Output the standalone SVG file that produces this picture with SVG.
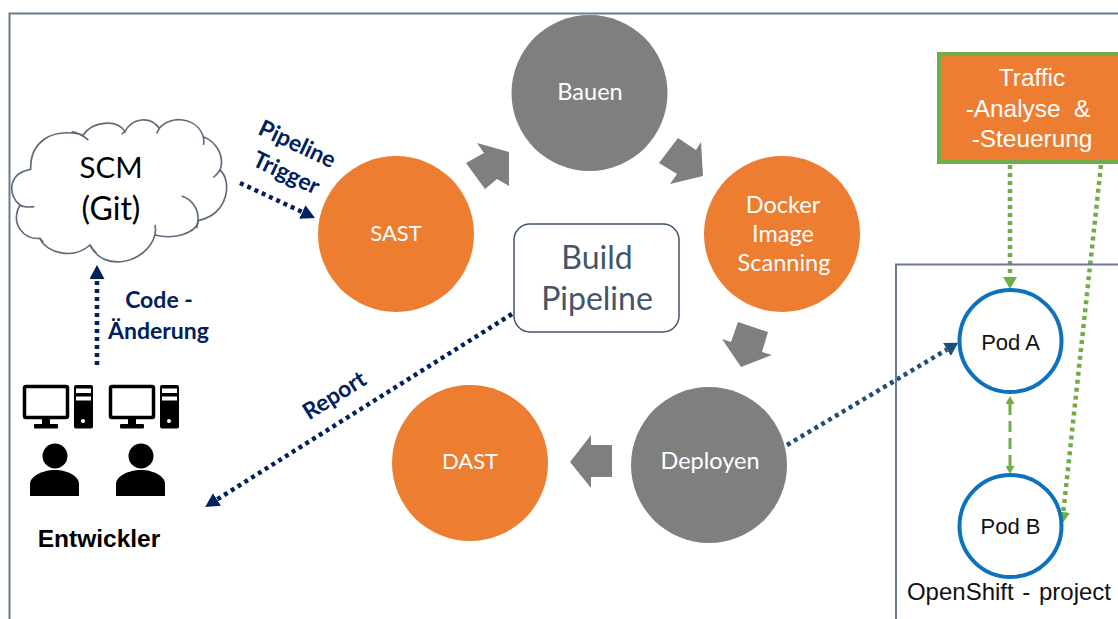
<svg xmlns="http://www.w3.org/2000/svg" width="1118" height="619" viewBox="0 0 1118 619">
<defs>
<style>
.n{font-family:Lato,"Noto Sans",sans-serif;font-size:23.500px;fill:#fff;text-anchor:middle}
.l{font-family:Lato,"Noto Sans",sans-serif;font-size:23px;font-weight:700;fill:#002060;text-anchor:middle}
.a{font-family:"Liberation Sans",Arial,sans-serif;text-anchor:middle}
.or{fill:#ed7d31}.gr{fill:#7f7f7f}
.pod{fill:#fff;stroke:#0c72bd;stroke-width:4}
.dot{fill:none;stroke-width:4.500;stroke-dasharray:4 4}
</style>
<marker id="mn" markerUnits="userSpaceOnUse" markerWidth="15" markerHeight="15" refX="0" refY="7.500" orient="auto"><path d="M0 0L14 7.500L0 15z" fill="#002060"/></marker>
<marker id="mb" markerUnits="userSpaceOnUse" markerWidth="15" markerHeight="15" refX="0" refY="7.500" orient="auto"><path d="M0 0L13 7.500L0 15z" fill="#1f4e79"/></marker>
<marker id="mg" markerUnits="userSpaceOnUse" markerWidth="14" markerHeight="14" refX="0" refY="7" orient="auto"><path d="M0 0L12 7L0 14z" fill="#70ad47"/></marker>
<marker id="ms" markerUnits="userSpaceOnUse" markerWidth="9" markerHeight="9" refX="0" refY="4.500" orient="auto-start-reverse"><path d="M0 0L8 4.500L0 9z" fill="#70ad47"/></marker>
<g id="pc"><rect x="24.500" y="386.500" width="43" height="31" rx="1.500" fill="#fff" stroke="#000" stroke-width="3.500"/><rect x="42" y="419" width="8" height="6" fill="#000"/><rect x="34" y="424" width="24" height="4.500" rx="1" fill="#000"/><rect x="74" y="385" width="19" height="43.500" rx="2" fill="#000"/><rect x="76" y="388.500" width="15" height="4.500" fill="#fff"/><rect x="76" y="396.500" width="15" height="4" fill="#fff"/><circle cx="83" cy="421" r="2" fill="#fff"/><circle cx="55" cy="456" r="12.500" fill="#000"/><path d="M30 496V484C30 476 43 470 55 470C67 470 79 476 79 484V496z" fill="#000"/></g>
</defs>
<rect width="1118" height="619" fill="#fff"/>
<path id="frame" d="M1118 13.500H9.500V619" fill="none" stroke="#6b7a90" stroke-width="2"/>
<g id="cloud">
<g transform="translate(0 90) scale(.33333)" fill="none" stroke="#5f6b7a" stroke-width="5">
<path fill="#fff" d="M60 345C25 320 20 250 92 238C90 160 150 110 250 135C275 95 350 85 375 125C395 85 450 75 478 115C510 75 590 80 610 140C650 155 675 200 660 240C695 270 690 370 595 392C590 430 520 450 465 435C440 520 310 550 270 465C220 510 140 490 120 445C70 450 30 400 60 345Z"/>
<path d="M60 345C70 352 85 352 103 350M215 125C235 128 250 138 265 150M375 125L365 132M478 115L470 130M610 140C613 150 612 160 610 165M660 240C655 248 650 255 640 262M545 318C580 330 605 365 590 415M465 435C467 425 467 415 465 405M270 465C274 472 280 482 290 490M120 445C122 448 125 452 130 456"/>
</g>
<text x="111" y="178" font-family="Lato,'Noto Sans',sans-serif" font-size="29.500" fill="#000" text-anchor="middle">SCM</text>
<text x="111" y="220" font-family="Lato,'Noto Sans',sans-serif" font-size="32" fill="#000" text-anchor="middle">(Git)</text>
</g>
<g id="connectors">
<path class="dot" stroke="#002060" marker-end="url(#mn)" d="M240 183L302.300 212"/>
<path class="dot" stroke="#002060" marker-end="url(#mn)" d="M97 365V279"/>
<path class="dot" stroke="#002060" marker-end="url(#mn)" d="M512 314L217 499.500"/>
<path class="dot" stroke="#1f4e79" marker-end="url(#mb)" d="M787 445L947 349.500"/>
<path class="dot" stroke="#70ad47" marker-end="url(#mg)" d="M1010 165V277"/>
<path class="dot" stroke="#70ad47" marker-end="url(#mg)" d="M1101 165L1063.300 512"/>
<path d="M1010 404V466" fill="none" stroke="#70ad47" stroke-width="3" stroke-dasharray="11 6" marker-start="url(#ms)" marker-end="url(#ms)"/>
<path class="gr" d="M466 163L484 153L477 143L509 152L509 186L497 179L485 189z"/>
<path class="gr" d="M659 163L678 138L696 150L701 142L703 176L670 184L677 174z"/>
<path class="gr" d="M738 322L768 332L762 352L772 355L741 367L722 339L731 342z"/>
<path class="gr" d="M570 462L591 435V445H612V477H591V488z"/>
</g>
<g id="bauen"><circle class="gr" cx="589.500" cy="93" r="78"/><text class="n" x="590" y="100">Bauen</text></g>
<g id="sast"><circle class="or" cx="396" cy="234" r="78"/><text class="n" x="396" y="241" style="font-size:22px">SAST</text></g>
<g id="docker"><circle class="or" cx="782" cy="234" r="78"/><text class="n" x="783" y="213">Docker</text><text class="n" x="783" y="242">Image</text><text class="n" x="784" y="271">Scanning</text></g>
<g id="deployen"><circle class="gr" cx="709" cy="465" r="78"/><text class="n" x="710" y="469">Deployen</text></g>
<g id="dast"><circle class="or" cx="470" cy="463" r="78"/><text class="n" x="470" y="469" style="font-size:22px">DAST</text></g>
<g id="build"><rect x="514" y="224" width="165" height="108" rx="16" fill="#fff" stroke="#44546a" stroke-width="1.500"/>
<text x="597" y="269" font-family="Lato,'Noto Sans',sans-serif" font-size="32" fill="#44546a" text-anchor="middle">Build</text>
<text x="597" y="310" font-family="Lato,'Noto Sans',sans-serif" font-size="32" fill="#44546a" text-anchor="middle">Pipeline</text></g>
<g id="labels">
<text class="l" transform="translate(294 151) rotate(25)">Pipeline</text>
<text class="l" transform="translate(283 180) rotate(25)">Trigger</text>
<text class="l" x="159" y="308">Code -</text>
<text class="l" x="158.500" y="339">Änderung</text>
<text class="l" transform="translate(338.500 402) rotate(-32)">Report</text>
</g>
<g id="entwickler"><use href="#pc"/><use href="#pc" x="86"/>
<text class="a" x="99" y="547" font-size="24.500" font-weight="700" fill="#000">Entwickler</text></g>
<g id="traffic"><rect x="939" y="54" width="190" height="108" fill="#ed7d31" stroke="#70ad47" stroke-width="4"/>
<text class="a" x="1032" y="86" font-size="24.400" fill="#fff">Traffic</text>
<text class="a" x="1028" y="117" font-size="24.400" fill="#fff" xml:space="preserve">-Analyse  &amp;</text>
<text class="a" x="1032" y="147" font-size="24.400" fill="#fff">-Steuerung</text></g>
<g id="openshift"><path d="M1118 264.500H896V619" fill="none" stroke="#6b7a90" stroke-width="2"/>
<text class="a" x="1009" y="600" font-size="24" fill="#111" word-spacing="2">OpenShift - project</text></g>
<g id="poda"><circle class="pod" cx="1010.500" cy="341" r="51"/><text class="a" x="1010.500" y="350" font-size="22" fill="#111">Pod A</text></g>
<g id="podb"><circle class="pod" cx="1010.500" cy="526" r="51"/><text class="a" x="1010.500" y="534" font-size="22" fill="#111">Pod B</text></g>
</svg>
